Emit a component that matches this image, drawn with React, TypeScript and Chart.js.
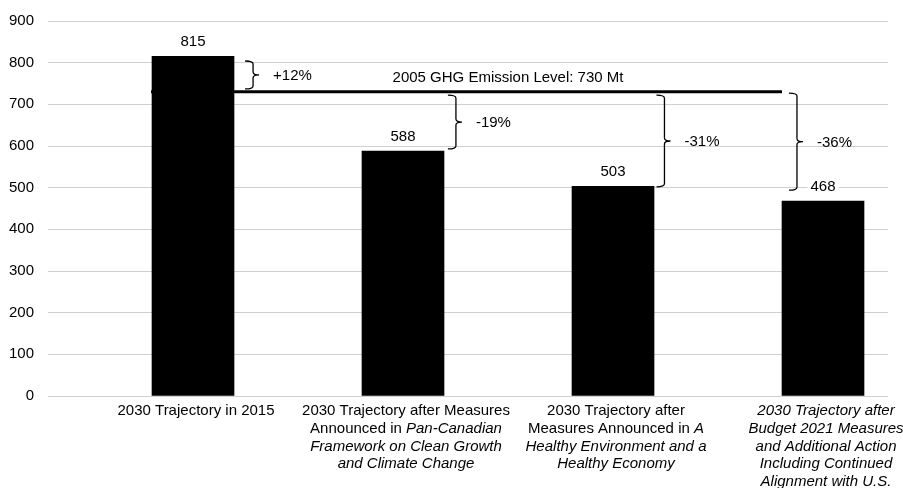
import React, { useEffect, useRef } from "react";
import { Chart, registerables } from "chart.js";

Chart.register(...registerables);

// ---- Data ----
const categoryLines: string[][] = [
  ["2030 Trajectory in 2015"],
  [
    "2030 Trajectory after Measures",
    "Announced in *Pan-Canadian*",
    "*Framework on Clean Growth*",
    "*and Climate Change*",
  ],
  [
    "2030 Trajectory after",
    "Measures Announced in *A*",
    "*Healthy Environment and a*",
    "*Healthy Economy*",
  ],
  [
    "*2030 Trajectory after*",
    "*Budget 2021 Measures*",
    "*and Additional Action*",
    "*Including Continued*",
    "*Alignment with U.S.*",
  ],
];
const emissions = [815, 588, 503, 468];
const baseline2005 = 730;
const baselineLabel = "2005 GHG Emission Level: 730 Mt";
const changeLabels = ["+12%", "-19%", "-31%", "-36%"];
const braceTops = [804, 722, 722, 727];
const braceBottoms = [737, 593, 502, 494];
const braceAnchors = [0.286, 1.252, 2.245, 2.876];
const yMin = 0;
const yMax = 900;
const yStep = 100;

const FONT = '"Liberation Sans", Arial, sans-serif';
const FS = 15;

function drawRichLine(ctx: CanvasRenderingContext2D, line: string, cx: number, cy: number) {
  const parts = line.split("*").map((t, i) => ({ t, italic: i % 2 === 1 })).filter((p) => p.t.length > 0);
  let total = 0;
  const widths = parts.map((p) => {
    ctx.font = `${p.italic ? "italic " : ""}${FS}px ${FONT}`;
    const w = ctx.measureText(p.t).width;
    total += w;
    return w;
  });
  let x = cx - total / 2;
  ctx.textAlign = "left";
  ctx.textBaseline = "middle";
  parts.forEach((p, i) => {
    ctx.font = `${p.italic ? "italic " : ""}${FS}px ${FONT}`;
    ctx.fillText(p.t, x, cy);
    x += widths[i];
  });
}

const annotationPlugin = {
  id: "ghgAnnotations",
  afterDatasetsDraw(chart: any) {
    const ctx: CanvasRenderingContext2D = chart.ctx;
    const xs = chart.scales.x;
    const ys = chart.scales.y;
    const bars = chart.getDatasetMeta(0).data;
    ctx.save();
    ctx.fillStyle = "#000";
    ctx.strokeStyle = "#000";

    // 2005 level line: from left edge of first bar to left edge of last bar
    const yLine = ys.getPixelForValue(baseline2005);
    const b0 = bars[0];
    const bL = bars[bars.length - 1];
    ctx.lineWidth = 3;
    ctx.beginPath();
    ctx.moveTo(b0.x - b0.width / 2 - 1, yLine);
    ctx.lineTo(bL.x - bL.width / 2, yLine);
    ctx.stroke();

    ctx.font = `${FS}px ${FONT}`;
    ctx.textAlign = "center";
    ctx.textBaseline = "middle";
    ctx.fillText(baselineLabel, xs.getPixelForValue(1.5), yLine - 14);

    // braces
    ctx.lineWidth = 1.3;
    braceAnchors.forEach((bx, i) => {
      const x = xs.getPixelForValue(bx);
      const top = ys.getPixelForValue(braceTops[i]);
      const bot = ys.getPixelForValue(braceBottoms[i]);
      const mid = (top + bot) / 2;
      const w = 8;
      const m = 6;
      const r = 3;
      ctx.beginPath();
      ctx.moveTo(x - w, top);
      ctx.quadraticCurveTo(x, top, x, top + r);
      ctx.lineTo(x, mid - r);
      ctx.quadraticCurveTo(x, mid, x + m, mid);
      ctx.quadraticCurveTo(x, mid, x, mid + r);
      ctx.lineTo(x, bot - r);
      ctx.quadraticCurveTo(x, bot, x - w, bot);
      ctx.stroke();
      ctx.font = `${FS}px ${FONT}`;
      ctx.textAlign = "left";
      ctx.textBaseline = "middle";
      ctx.fillText(changeLabels[i], x + 20, mid + 1);
    });

    // value labels
    bars.forEach((b: any, i: number) => {
      const txt = String(emissions[i]);
      ctx.font = `${FS}px ${FONT}`;
      const tw = ctx.measureText(txt).width;
      const cy = b.y - 14.5;
      ctx.fillStyle = "#fff";
      ctx.fillRect(b.x - tw / 2 - 3, cy - 8, tw + 6, 16);
      ctx.fillStyle = "#000";
      ctx.textAlign = "center";
      ctx.textBaseline = "middle";
      ctx.fillText(txt, b.x, cy);
    });

    // category labels
    const area = chart.chartArea;
    bars.forEach((b: any, i: number) => {
      categoryLines[i].forEach((line, j) => {
        drawRichLine(ctx, line, b.x + 3, area.bottom + 15 + j * 17.7);
      });
    });
    ctx.restore();
  },
};

export default function App() {
  const ref = useRef<HTMLCanvasElement | null>(null);
  useEffect(() => {
    if (!ref.current) return;
    const chart = new Chart(ref.current, {
      type: "bar",
      data: {
        datasets: [
          {
            label: "Emissions (Mt)",
            data: emissions.map((v, i) => ({ x: i, y: v })),
            backgroundColor: "#000",
            borderWidth: 0,
            barThickness: 82,
          },
        ],
      },
      options: {
        animation: false,
        responsive: true,
        maintainAspectRatio: false,
        layout: { padding: { top: 21, bottom: 92, left: 0, right: 15 } },
        plugins: { legend: { display: false }, tooltip: { enabled: false } },
        scales: {
          x: {
            type: "linear",
            min: -0.6905,
            max: 3.3095,
            offset: false,
            display: false,
          },
          y: {
            min: yMin,
            max: yMax,
            ticks: {
              stepSize: yStep,
              padding: 14,
              color: "#000",
              font: { family: FONT, size: FS },
            },
            grid: { color: "#d0d0d0", lineWidth: 1, drawTicks: false },
            border: { display: false },
            afterFit: (s: any) => {
              s.width = 48;
              s.paddingTop = 0;
              s.paddingBottom = 0;
            },
          },
        },
      },
      plugins: [annotationPlugin],
    } as any);
    return () => chart.destroy();
  }, []);
  return (
    <div style={{ position: "fixed", left: 0, top: 0, width: 903, height: 488, background: "#fff" }}>
      <canvas ref={ref} />
    </div>
  );
}
